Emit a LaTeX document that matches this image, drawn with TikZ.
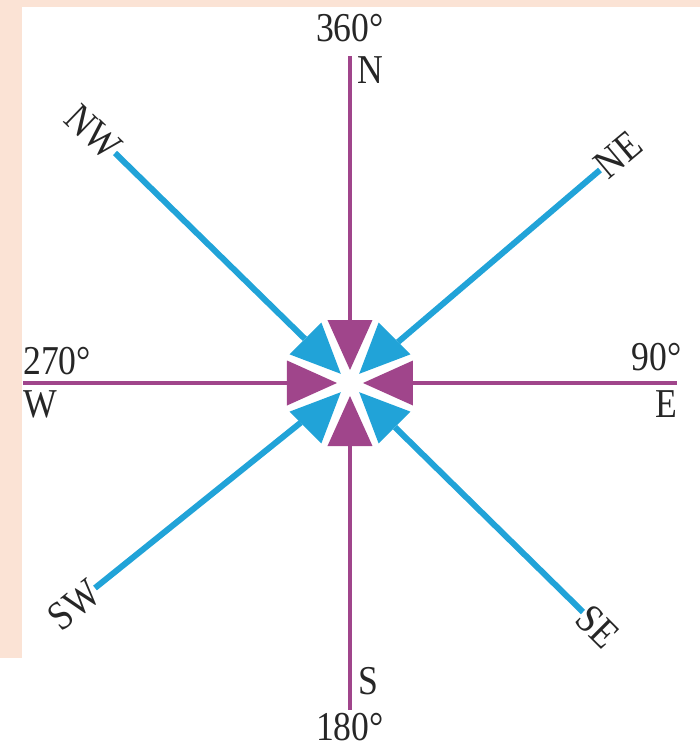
\documentclass[tikz,border=0pt]{standalone}
\usepackage{fontspec}
\setmainfont{Liberation Serif}[FakeStretch=0.87]
\usetikzlibrary{positioning}
\definecolor{Rose}{HTML}{A0458B}
\definecolor{Sky}{HTML}{21A3D8}
\definecolor{Peach}{HTML}{FBE3D5}

\begin{document}
\begin{tikzpicture}[
  x=1pt,y=1pt,
  mainline/.style={draw=Rose,line width=4.8pt},
  midline/.style={draw=Sky,line width=6pt},
  lbl/.style={inner sep=0pt,font=\fontsize{41}{41}\selectfont,text=black!85}
]
\useasboundingbox (-350,-365) rectangle (350,383);
\fill[Peach] (-350,376) rectangle (350,383);
\fill[Peach] (-350,-275) rectangle (-328,383);

% ends of the eight arms
\coordinate (hub) at (0,0);
\coordinate (n) at (0,327);
\coordinate (s) at (0,-327);
\coordinate (e) at (327,0);
\coordinate (w) at (-327,0);
\coordinate (ne) at (250,213);
\coordinate (nw) at (-235,230);
\coordinate (se) at (233,-229);
\coordinate (sw) at (-255,-205);

\draw[mainline] (hub) -- (n);
\draw[mainline] (hub) -- (s);
\draw[mainline] (hub) -- (e);
\draw[mainline] (hub) -- (w);
\draw[midline] (hub) -- (ne);
\draw[midline] (hub) -- (nw);
\draw[midline] (hub) -- (se);
\draw[midline] (hub) -- (sw);

% centre rose
\fill[white] (hub) circle (63);
\foreach \a/\c in {0/Rose,90/Rose,180/Rose,270/Rose,45/Sky,135/Sky,225/Sky,315/Sky}
  \fill[\c,rotate=\a] (13,0) -- (63,22.5) -- (63,-22.5) -- cycle;

% labels
\node[lbl,anchor=south] (deg360) at ([yshift=14pt]n) {360°};
\node[lbl,anchor=north west] (nlbl) at ([xshift=7pt]n) {N};
\node[lbl,anchor=south west] (slbl) at ([xshift=8pt,yshift=15pt]s) {S};
\node[lbl,anchor=north] (deg180) at ([yshift=-3pt]s) {180°};
\node[lbl,anchor=south west] (deg270) at ([yshift=8pt]w) {270°};
\node[lbl,anchor=north west] (wlbl) at ([yshift=-7pt]w) {W};
\node[lbl,anchor=south east] (deg90) at ([xshift=5pt,yshift=12pt]e) {90°};
\node[lbl,anchor=north east] (elbl) at ([yshift=-7pt]e) {E};
\node[lbl,rotate=-44,anchor=east] (nwlbl) at (nw) {NW};
\node[lbl,rotate=40,anchor=west] (nelbl) at (ne) {NE};
\node[lbl,rotate=-45,anchor=west] (selbl) at (se) {SE};
\node[lbl,rotate=39,anchor=east] (swlbl) at (sw) {SW};
\end{tikzpicture}
\end{document}
